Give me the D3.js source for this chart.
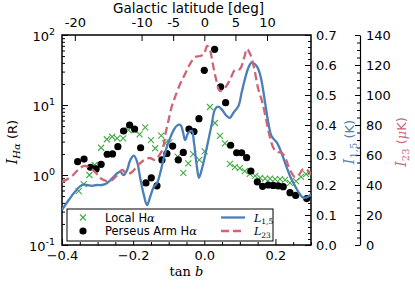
<!DOCTYPE html>
<html>
<head>
<meta charset="utf-8">
<script src="https://cdn.jsdelivr.net/npm/d3@7"></script>
<style>
  body { margin: 0; background: #fff; }
  svg text { font-family: "DejaVu Sans", sans-serif; }
  .tick text { font-size: 13px; fill: #000; }
  .tick line, .domain { stroke: #000; }
  .math { font-family: "DejaVu Serif", serif; }
</style>
</head>
<body>
<div id="chart"></div>
<script>
// Local H-alpha (green crosses)
var localTanB = [-0.353,-0.339,-0.323,-0.308,-0.290,-0.274,-0.259,-0.245,-0.228,-0.213,
  -0.196,-0.182,-0.166,-0.150,-0.138,-0.121,-0.110,-0.098,-0.075,-0.059,
  -0.045,-0.031,-0.014,0.001,0.016,0.030,0.044,0.058,0.072,0.086,
  0.100,0.114,0.128,0.143,0.157,0.171,0.185,0.199,0.213,0.227,
  0.241,0.258,0.272,0.286,0.298];
var localHa = [0.59,0.74,1.0,1.39,2.45,3.24,3.52,3.34,3.34,4.39,
  4.39,3.81,4.80,3.16,2.41,3.64,2.84,2.93,1.83,1.07,
  1.47,1.98,1.64,2.17,9.36,5.53,3.61,2.82,1.44,1.30,
  1.25,1.14,1.04,0.97,0.91,0.885,0.885,0.87,0.87,0.85,
  0.77,0.82,0.94,1.03,1.09];

// Perseus Arm H-alpha (black dots)
var perseusTanB = [-0.356,-0.338,-0.320,-0.304,-0.290,-0.273,-0.258,-0.243,-0.227,-0.210,
  -0.196,-0.179,-0.164,-0.149,-0.133,-0.119,-0.105,-0.089,-0.073,-0.059,
  -0.043,-0.029,-0.015,0.000,0.029,0.046,0.060,0.074,0.091,0.105,
  0.119,0.131,0.149,0.164,0.180,0.194,0.208,0.222,0.241,0.257,0.288];
var perseusHa = [1.55,1.69,1.29,1.22,1.42,1.98,2.0,2.54,4.25,5.18,
  4.54,2.45,0.77,0.91,0.70,1.64,2.03,2.59,1.64,2.10,
  4.54,4.18,6.37,31.3,62.5,18.2,10.8,2.66,2.08,2.08,
  1.77,1.14,0.80,0.69,0.72,0.71,0.70,0.68,0.56,0.51,0.46];

// L_1,5 profile (K)
var l15TanB = [-0.400,-0.381,-0.363,-0.344,-0.330,-0.316,-0.302,-0.288,-0.274,-0.259,
  -0.245,-0.236,-0.227,-0.217,-0.208,-0.198,-0.189,-0.180,-0.170,-0.161,
  -0.152,-0.142,-0.133,-0.124,-0.114,-0.105,-0.096,-0.086,-0.077,-0.067,
  -0.060,-0.054,-0.045,-0.035,-0.029,-0.021,-0.015,-0.007,0.002,0.011,
  0.021,0.030,0.039,0.049,0.063,0.072,0.082,0.096,0.105,0.114,
  0.124,0.133,0.143,0.152,0.161,0.171,0.180,0.189,0.204,0.213,
  0.227,0.241,0.255,0.269,0.278,0.292,0.300];
var l15K = [0.117,0.150,0.178,0.200,0.200,0.197,0.200,0.200,0.206,0.222,
  0.239,0.244,0.233,0.250,0.283,0.298,0.278,0.222,0.167,0.133,
  0.161,0.194,0.206,0.239,0.289,0.328,0.357,0.383,0.398,0.400,
  0.377,0.350,0.374,0.380,0.341,0.263,0.224,0.252,0.297,0.347,
  0.403,0.452,0.461,0.452,0.430,0.424,0.441,0.463,0.508,0.552,
  0.591,0.608,0.602,0.586,0.547,0.474,0.408,0.363,0.341,0.319,
  0.274,0.230,0.197,0.169,0.158,0.161,0.169];

// L_23 profile (muK)
var l23TanB = [-0.400,-0.389,-0.372,-0.355,-0.338,-0.321,-0.307,-0.293,-0.276,-0.259,
  -0.245,-0.231,-0.217,-0.203,-0.186,-0.169,-0.153,-0.139,-0.124,-0.116,
  -0.108,-0.099,-0.091,-0.082,-0.068,-0.054,-0.040,-0.026,-0.012,-0.001,
  0.008,0.016,0.024,0.033,0.044,0.058,0.072,0.086,0.100,0.112,
  0.120,0.129,0.140,0.151,0.163,0.174,0.185,0.196,0.207,0.219,
  0.230,0.241,0.255,0.266,0.278,0.289,0.300];
var l23MuK = [42,43.3,46,50,52.7,51.3,48.7,44.7,42.7,43.3,
  46.7,50,47.3,48.7,53.3,56.7,58,56.7,60.7,64.7,
  75.3,84.7,92.7,98.7,107.3,114,120.7,125.3,126,127.3,
  132.7,130,120.7,110.7,102.7,104.7,110,116.7,117.3,124.7,
  130.7,127.3,118,104.7,95.3,83.3,71.3,64,62,61.3,
  56.7,50,45.3,46.7,50.7,50,46.7];

// tick labels
var bottomTicks = [-0.4, -0.2, 0.0, 0.2];
var latTicks = [-20, -10, -5, 0, 5, 10];
var leftTicks = [0.1, 1, 10, 100];
var leftExp = ["-1", "0", "1", "2"];
var kTicks = [0, 0.1, 0.2, 0.3, 0.4, 0.5, 0.6, 0.7];
var muKTicks = [0, 20, 40, 60, 80, 100, 120, 140];

var blue = "#4a7fb8", pink = "#cc6677", green = "#44aa44";

var margin = {top: 35, right: 104, bottom: 46, left: 62},
    width = 249,
    height = 210;

var svg = d3.select("#chart").append("svg")
    .attr("width", 415)
    .attr("height", 291);

var g = svg.append("g")
    .attr("transform", "translate(" + margin.left + "," + margin.top + ")");

g.append("clipPath").attr("id", "plotclip")
  .append("rect").attr("width", width).attr("height", height);

// scales
var x = d3.scaleLinear().domain([-0.4, 0.3]).range([0, width]);
var yHa = d3.scaleLog().domain([0.1, 100]).range([height, 0]);
var yK = d3.scaleLinear().domain([0, 0.7]).range([height, 0]);
var yMuK = d3.scaleLinear().domain([0, 140]).range([height, 0]);

function toTan(deg) { return Math.tan(deg * Math.PI / 180); }

// bottom axis, inward ticks
var bottomMinor = d3.range(-0.4, 0.3001, 0.05).filter(function(d) {
  return !bottomTicks.some(function(t) { return Math.abs(t - d) < 1e-6; });
});
g.append("g").attr("transform", "translate(0," + height + ")")
  .call(d3.axisBottom(x).tickValues(bottomMinor).tickSize(-3).tickFormat(""))
  .select(".domain").remove();
g.append("g").attr("transform", "translate(0," + height + ")")
  .call(d3.axisBottom(x).tickValues(bottomTicks).tickSize(-6).tickPadding(6)
    .tickFormat(d3.format(".1f")))
  .select(".domain").remove();

// top axis in galactic latitude
g.append("g")
  .call(d3.axisTop(x).tickValues(latTicks.map(toTan)).tickSize(-6).tickPadding(8)
    .tickFormat(function(d, i) { return String(latTicks[i]); }))
  .select(".domain").remove();

// left log axis
var leftMinor = [];
[0.1, 1, 10].forEach(function(b) {
  for (var k = 2; k <= 9; k++) leftMinor.push(b * k);
});
g.append("g")
  .call(d3.axisLeft(yHa).tickValues(leftMinor).tickSize(-3).tickFormat(""))
  .select(".domain").remove();
var leftAxis = g.append("g")
  .call(d3.axisLeft(yHa).tickValues(leftTicks).tickSize(-6).tickFormat(""));
leftAxis.select(".domain").remove();
leftAxis.selectAll(".tick").each(function(d, i) {
  var t = d3.select(this).append("text")
    .attr("x", -7).attr("y", 5)
    .attr("text-anchor", "end")
    .attr("fill", "#000")
    .style("font-size", "13px");
  t.append("tspan").text("10");
  t.append("tspan").attr("dy", -6).style("font-size", "9.5px").text(leftExp[i]);
});

// right axis, L_1,5
var kMinor = d3.range(0, 0.7001, 0.02);
g.append("g").attr("transform", "translate(" + width + ",0)")
  .call(d3.axisRight(yK).tickValues(kMinor).tickSize(-3).tickFormat(""))
  .select(".domain").remove();
g.append("g").attr("transform", "translate(" + width + ",0)")
  .call(d3.axisRight(yK).tickValues(kTicks).tickSize(-6).tickPadding(5)
    .tickFormat(d3.format(".1f")))
  .select(".domain").remove();

// second right axis, L_23
var muKMinor = d3.range(0, 140.001, 5);
var axis2 = g.append("g").attr("transform", "translate(" + (width + 49) + ",0)");
axis2.append("g")
  .call(d3.axisRight(yMuK).tickValues(muKMinor).tickSize(-3).tickFormat(""))
  .select(".domain").remove();
axis2.append("g")
  .call(d3.axisRight(yMuK).tickValues(muKTicks).tickSize(-5).tickSizeOuter(0).tickPadding(6))
  .select(".domain").attr("stroke-width", 1.2);

// frame
g.append("rect")
  .attr("width", width).attr("height", height)
  .attr("fill", "none").attr("stroke", "#000").attr("stroke-width", 1.5);

var plot = g.append("g").attr("clip-path", "url(#plotclip)");

// Local H-alpha crosses
plot.append("g").selectAll("path")
  .data(localTanB)
  .enter().append("path")
    .attr("transform", function(d, i) { return "translate(" + x(d) + "," + yHa(localHa[i]) + ")"; })
    .attr("d", "M-3,-3L3,3M-3,3L3,-3")
    .attr("stroke", green).attr("stroke-width", 1.1).attr("fill", "none");

// Perseus Arm dots
plot.append("g").selectAll("circle")
  .data(perseusTanB)
  .enter().append("circle")
    .attr("cx", function(d) { return x(d); })
    .attr("cy", function(d, i) { return yHa(perseusHa[i]); })
    .attr("r", 3.6)
    .attr("fill", "#000");

// L_1,5 line
plot.append("path")
  .datum(l15TanB)
  .attr("fill", "none").attr("stroke", blue).attr("stroke-width", 2.3)
  .attr("d", d3.line()
    .x(function(d) { return x(d); })
    .y(function(d, i) { return yK(l15K[i]); })
    .curve(d3.curveCatmullRom.alpha(0.5)));

// L_23 line
plot.append("path")
  .datum(l23TanB)
  .attr("fill", "none").attr("stroke", pink).attr("stroke-width", 2.3)
  .attr("stroke-dasharray", "8,4")
  .attr("d", d3.line()
    .x(function(d) { return x(d); })
    .y(function(d, i) { return yMuK(l23MuK[i]); })
    .curve(d3.curveCatmullRom.alpha(0.5)));

// axis titles
svg.append("text")
  .attr("x", margin.left + width / 2 + 2).attr("y", 13)
  .attr("text-anchor", "middle")
  .style("font-size", "13.5px")
  .text("Galactic latitude [deg]");

var xt = svg.append("text")
  .attr("class", "math")
  .attr("x", margin.left + width / 2).attr("y", 276)
  .attr("text-anchor", "middle")
  .style("font-size", "13px");
xt.append("tspan").text("tan ");
xt.append("tspan").style("font-style", "italic").text("b");

function yTitle(cx, color, sub, unit, muPrefix) {
  var t = svg.append("text")
    .attr("transform", "translate(" + cx + ",142) rotate(-90)")
    .attr("text-anchor", "middle")
    .attr("fill", color);
  t.append("tspan").attr("class", "math").style("font-style", "italic")
    .style("font-size", "14px").text("I");
  t.append("tspan").attr("class", "math").attr("dy", 3)
    .style("font-style", sub == "Hα" ? "italic" : "normal")
    .style("font-size", "10px").text(sub);
  t.append("tspan").attr("dy", -3).style("font-size", "13px").text(" (");
  if (muPrefix) {
    t.append("tspan").attr("class", "math").style("font-style", "italic")
      .style("font-size", "13px").text("μ");
  }
  t.append("tspan").style("font-size", "13px").text(unit + ")");
}
yTitle(17, "#000", "Hα", "R", false);
yTitle(354, blue, "1,5", "K", false);
yTitle(406, pink, "23", "K", true);

// legend
var lg = g.append("g").attr("transform", "translate(5,174)");
lg.append("rect")
  .attr("width", 206).attr("height", 32)
  .attr("fill", "#fff").attr("stroke", "#000").attr("stroke-width", 1);

lg.append("path")
  .attr("transform", "translate(16,8.5)")
  .attr("d", "M-3,-3L3,3M-3,3L3,-3")
  .attr("stroke", green).attr("stroke-width", 1.1);
lg.append("circle").attr("cx", 16).attr("cy", 22).attr("r", 3.6).attr("fill", "#000");

function legendText(y, label) {
  var t = lg.append("text").attr("x", 38).attr("y", y).style("font-size", "11.5px");
  t.append("tspan").text(label + " H");
  t.append("tspan").attr("class", "math").style("font-style", "italic").text("α");
}
legendText(12.5, "Local");
legendText(26, "Perseus Arm");

lg.append("line").attr("x1", 154).attr("x2", 178).attr("y1", 8.5).attr("y2", 8.5)
  .attr("stroke", blue).attr("stroke-width", 2.3);
lg.append("line").attr("x1", 154).attr("x2", 178).attr("y1", 22).attr("y2", 22)
  .attr("stroke", pink).attr("stroke-width", 2.3).attr("stroke-dasharray", "8,4");

function legendL(y, sub) {
  var t = lg.append("text").attr("class", "math").attr("x", 187).attr("y", y)
    .style("font-style", "italic").style("font-size", "11px");
  t.append("tspan").text("L");
  t.append("tspan").attr("dy", 2.5).style("font-size", "7.5px").style("font-style", "normal").text(sub);
}
legendL(12.5, "1,5");
legendL(26, "23");
</script>
</body>
</html>
